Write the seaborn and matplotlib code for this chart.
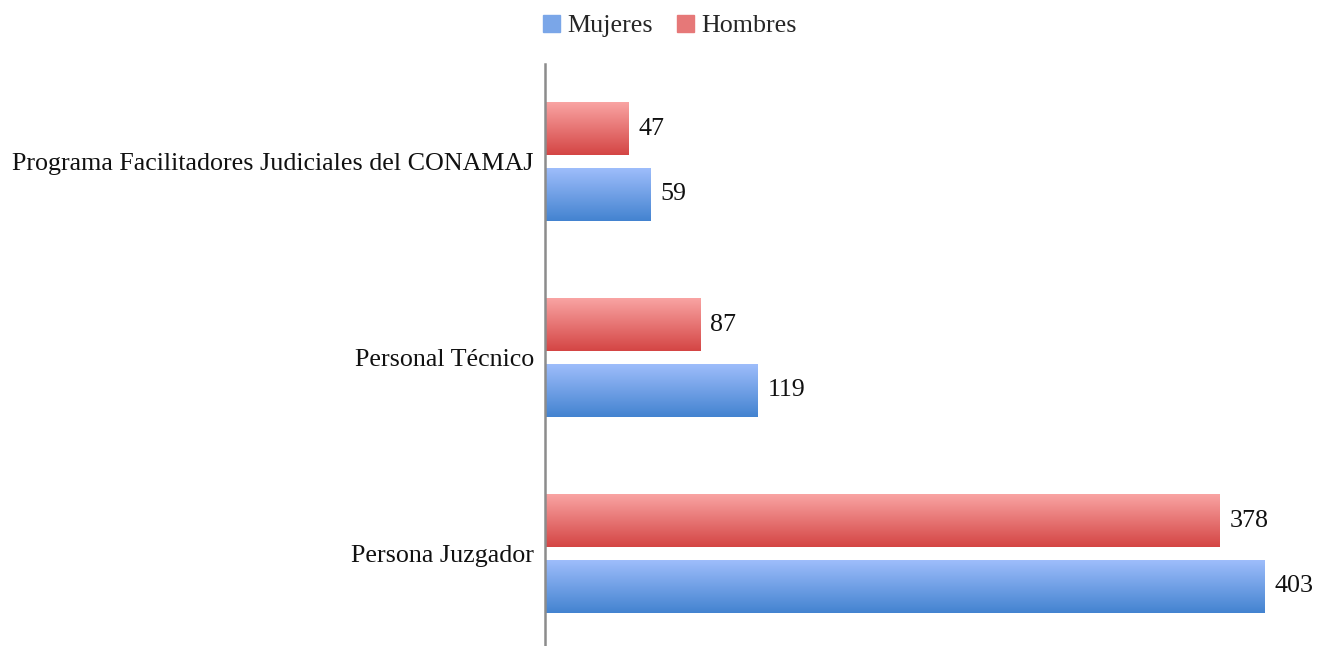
import matplotlib
matplotlib.use("Agg")
import matplotlib.pyplot as plt
import matplotlib.patches as mpatches
import numpy as np
import pandas as pd
import seaborn as sns

categorias = ["Programa Facilitadores Judiciales del CONAMAJ", "Personal Técnico", "Persona Juzgador"]
mujeres = [59, 119, 403]
hombres = [47, 87, 378]

df = pd.DataFrame({
    "categoria": categorias * 2,
    "valor": hombres + mujeres,
    "sexo": ["Hombres"] * 3 + ["Mujeres"] * 3,
})

# gradient colours, top -> bottom
grad = {
    "Hombres": ("#F9A4A3", "#D44544"),
    "Mujeres": ("#9EBDFB", "#4383D0"),
}

sns.set_style("white")
plt.rcParams["font.family"] = ["Liberation Serif", "DejaVu Serif"]
fs = 18.7

fig = plt.figure(figsize=(13.17, 6.46), dpi=100)
ax = fig.add_axes([545 / 1317, 1 - 651.5 / 646, (1295 - 545) / 1317, 588 / 646])

sns.barplot(data=df, y="categoria", x="valor", hue="sexo", order=categorias,
            hue_order=["Hombres", "Mujeres"], orient="h", width=0.67, gap=0.2,
            legend=False, ax=ax, palette={"Hombres": "#E06666", "Mujeres": "#6A9BE0"})

ax.set_xlim(0, 420)
ylim = ax.get_ylim()

# replace flat bars with vertical gradients
n = 256
for cont, sexo in zip(ax.containers, ["Hombres", "Mujeres"]):
    top, bot = [np.array(matplotlib.colors.to_rgb(c)) for c in grad[sexo]]
    t = np.linspace(0, 1, n)[:, None]
    img = (top * (1 - t) + bot * t)[:, None, :]
    for bar in cont:
        x0, y0 = bar.get_x(), bar.get_y()
        w, h = bar.get_width(), bar.get_height()
        bar.set_visible(False)
        ax.imshow(img, extent=(x0, x0 + w, y0 + h, y0), origin="upper",
                  aspect="auto", zorder=2, interpolation="bilinear")
        ax.text(x0 + w + 5.5, y0 + h / 2, f"{int(w)}", va="center", ha="left",
                fontsize=fs, color="#111111")

ax.set_xlim(0, 420)
ax.set_ylim(ylim)

ax.set_xlabel("")
ax.set_ylabel("")
ax.set_xticks([])
ax.tick_params(axis="y", length=0, pad=8, labelsize=fs, labelcolor="#111111")
for s in ["top", "right", "bottom"]:
    ax.spines[s].set_visible(False)
ax.spines["left"].set_color("#8C8C8C")
ax.spines["left"].set_linewidth(1.8)

handles = [mpatches.Patch(color="#7AA6E8", label="Mujeres"),
           mpatches.Patch(color="#E67878", label="Hombres")]
fig.legend(handles=handles, loc="center", bbox_to_anchor=(670 / 1317, 1 - 26 / 646),
           ncol=2, frameon=False, fontsize=fs, handlelength=0.65, handleheight=0.65,
           handletextpad=0.3, columnspacing=0.9)

fig.savefig("out.png", dpi=100)
